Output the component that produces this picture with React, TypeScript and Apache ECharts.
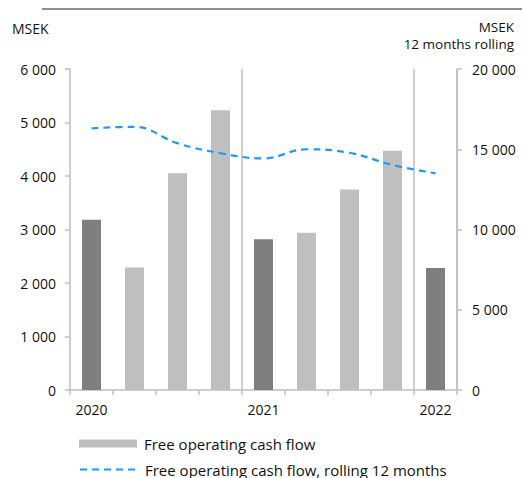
import React, { useEffect, useRef } from "react";
import * as echarts from "echarts";

const categories = ["2020 Q1", "2020 Q2", "2020 Q3", "2020 Q4", "2021 Q1", "2021 Q2", "2021 Q3", "2021 Q4", "2022 Q1"];
const yearLabels = ["2020", "", "", "", "2021", "", "", "", "2022"];
const cashFlow = [3180, 2290, 4050, 5230, 2820, 2940, 3750, 4470, 2280];
const rolling12 = [16300, 16400, 15370, 14750, 14430, 15000, 14780, 14020, 13500];
const leftTicks = { min: 0, max: 6000, interval: 1000 };
const rightTicks = { min: 0, max: 20000, interval: 5000 };

const FONT = "Open Sans";
const fmt = (v: number) => String(v).replace(/\B(?=(\d{3})+(?!\d))/g, " ");

export default function App() {
  const ref = useRef<HTMLDivElement>(null);
  useEffect(() => {
    if (!ref.current) return;
    document.body.style.margin = "0";
    const chart = echarts.init(ref.current, undefined, { renderer: "svg" });
    const axisColor = "#bfbfbf";
    const txt = "#111";
    chart.setOption({
      animation: false,
      textStyle: { fontFamily: FONT },
      grid: { left: 70, right: 65, top: 69, bottom: 88 },
      graphic: [
        { type: "line", shape: { x1: 42, y1: 9, x2: 522, y2: 9 }, style: { stroke: "#222", lineWidth: 1 } },
        { type: "text", x: 12, y: 28, style: { text: "MSEK", font: `14px '${FONT}'`, fill: txt, textVerticalAlign: "middle" } },
        { type: "text", x: 514, y: 27, style: { text: "MSEK", font: `13.5px '${FONT}'`, fill: txt, textAlign: "right", textVerticalAlign: "middle" } },
        { type: "text", x: 514, y: 44, style: { text: "12 months rolling", font: `13.5px '${FONT}'`, fill: txt, textAlign: "right", textVerticalAlign: "middle" } },
      ],
      legend: [
        {
          left: 79,
          top: 436,
          padding: 0,
          itemWidth: 58,
          itemHeight: 8,
          textStyle: { fontFamily: FONT, fontSize: 15, color: txt, padding: [0, 0, 0, 2] },
          data: [{ name: "Free operating cash flow", icon: "rect" }],
        },
        {
          left: 79,
          top: 462,
          padding: 0,
          itemWidth: 58,
          itemHeight: 8,
          textStyle: { fontFamily: FONT, fontSize: 15, color: txt, padding: [0, 0, 0, 2] },
          data: [{ name: "Free operating cash flow, rolling 12 months", itemStyle: { opacity: 0 } }],
        },
      ],
      xAxis: {
        type: "category",
        data: categories,
        axisLine: { lineStyle: { color: axisColor, width: 1.5 } },
        axisTick: { show: true, interval: 0, length: 5, lineStyle: { color: axisColor, width: 1.5 } },
        axisLabel: {
          interval: 0,
          margin: 12,
          color: txt,
          fontSize: 14,
          fontFamily: FONT,
          formatter: (_v: string, i: number) => yearLabels[i],
        },
        splitLine: {
          show: true,
          interval: (i: number) => i === 4 || i === 8,
          lineStyle: { color: axisColor, width: 1.5 },
        },
      },
      yAxis: [
        {
          type: "value",
          ...leftTicks,
          position: "left",
          axisLine: { show: true, lineStyle: { color: axisColor, width: 1.5 } },
          axisTick: { show: true, length: 5, lineStyle: { color: axisColor, width: 1.5 } },
          axisLabel: { margin: 14, color: txt, fontSize: 14, fontFamily: FONT, formatter: fmt },
          splitLine: { show: false },
        },
        {
          type: "value",
          ...rightTicks,
          position: "right",
          axisLine: { show: true, lineStyle: { color: axisColor, width: 1.5 } },
          axisTick: { show: true, length: 5, lineStyle: { color: axisColor, width: 1.5 } },
          axisLabel: { margin: 15, color: txt, fontSize: 14, fontFamily: FONT, formatter: fmt },
          splitLine: { show: false },
        },
      ],
      series: [
        {
          name: "Free operating cash flow",
          type: "bar",
          yAxisIndex: 0,
          barWidth: 19,
          itemStyle: { color: "#bfbfbf" },
          data: cashFlow.map((v, i) =>
            categories[i].endsWith("Q1") ? { value: v, itemStyle: { color: "#7f7f7f" } } : v
          ),
        },
        {
          name: "Free operating cash flow, rolling 12 months",
          type: "line",
          yAxisIndex: 1,
          smooth: 0.4,
          symbol: "none",
          itemStyle: { color: "#1a9bff" },
          lineStyle: { color: "#1a9bff", width: 2.2, type: [7, 5] },
          data: rolling12,
        },
      ],
    });
    return () => chart.dispose();
  }, []);
  return <div ref={ref} style={{ width: 522, height: 478 }} />;
}
